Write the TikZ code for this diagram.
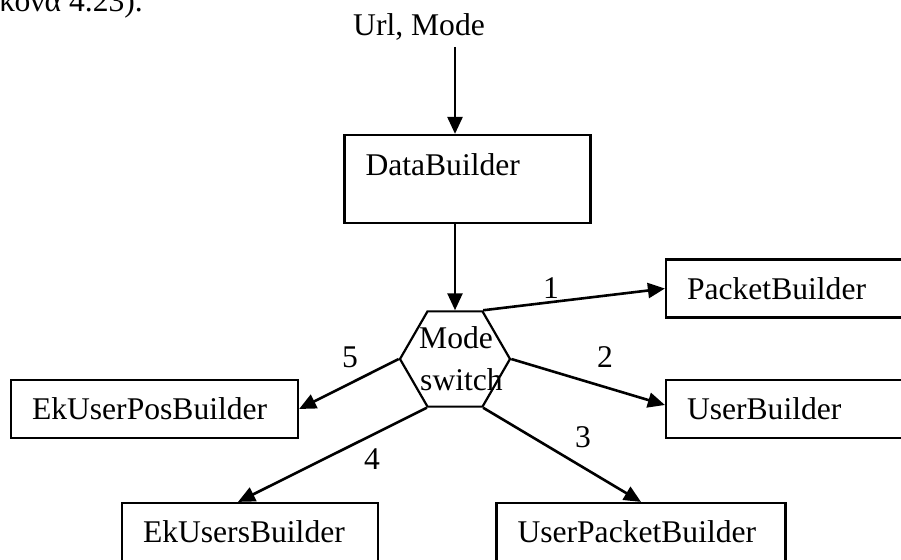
\documentclass[tikz,border=0pt]{standalone}
\usepackage{fontspec}
\setmainfont{Liberation Serif}
\usetikzlibrary{arrows.meta,shapes.geometric,positioning,calc}

\tikzset{
  lbl/.style={font=\fontsize{31.6}{38}\selectfont, inner sep=0pt},
  box/.style={draw, line width=2.2pt, rectangle, minimum height=58pt,
    font=\fontsize{31.6}{38}\selectfont, align=left, inner xsep=21pt,
    inner ysep=0pt, text height=21pt, text depth=0pt},
  hexnode/.style={draw, line width=2.2pt, regular polygon, regular polygon sides=6,
    minimum size=110pt, inner sep=0pt},
  flow/.style={line width=2.6pt, -{Triangle[length=17pt,width=15pt]}},
}

\begin{document}
\begin{tikzpicture}[x=1pt,y=-1pt]
  \clip (0,0) rectangle (901,559);
  \fill[white] (0,0) rectangle (901,559);

  % tail of the caption line of the preceding paragraph
  \node[lbl, anchor=base east] (caption) at (143,12) {κόνα 4.23).};

  % input
  \node[lbl, anchor=base west] (url) at (353,36) {Url, Mode};

  % builders
  \node[box, text width=204pt, text height=21pt, text depth=29pt, minimum height=88pt]
    (data) at (467.5,179) {DataBuilder};
  \node[hexnode] (mode) at (455,359) {};
  \node[lbl, anchor=base west] (modeA) at (419,348) {Mode};
  \node[lbl, anchor=base west] (modeB) at (420,390) {switch};

  \node[box, text width=208pt] (packet) at (791,288.5) {PacketBuilder};
  \node[box, text width=208pt] (user) at (791,409) {UserBuilder};
  \node[box, text width=245pt] (ekpos) at (154.5,409) {EkUserPosBuilder};
  \node[box, text width=214pt] (ekusers) at (250,532) {EkUsersBuilder};
  \node[box, text width=247pt] (upacket) at (641,532) {UserPacketBuilder};

  % connectors
  \coordinate (in) at (mode.north |- 0,47);
  \draw[flow] (in) -- (in |- data.north);
  \draw[flow] (mode.north |- data.south) -- (mode.north);
  \draw[flow] (mode.60) -- (packet.west);
  \draw[flow] (mode.0) -- ([yshift=4pt]user.west);
  \draw[flow] (mode.300) -- (upacket.north);
  \draw[flow] (mode.240) -- ([xshift=-12pt]ekusers.north);
  \draw[flow] (mode.180) -- (ekpos.east);

  % branch numbers
  \node[lbl, anchor=base] (n1) at (551,298) {1};
  \node[lbl, anchor=base] (n2) at (605,367) {2};
  \node[lbl, anchor=base] (n3) at (583,447) {3};
  \node[lbl, anchor=base] (n4) at (372,469) {4};
  \node[lbl, anchor=base] (n5) at (350,367) {5};
\end{tikzpicture}
\end{document}
